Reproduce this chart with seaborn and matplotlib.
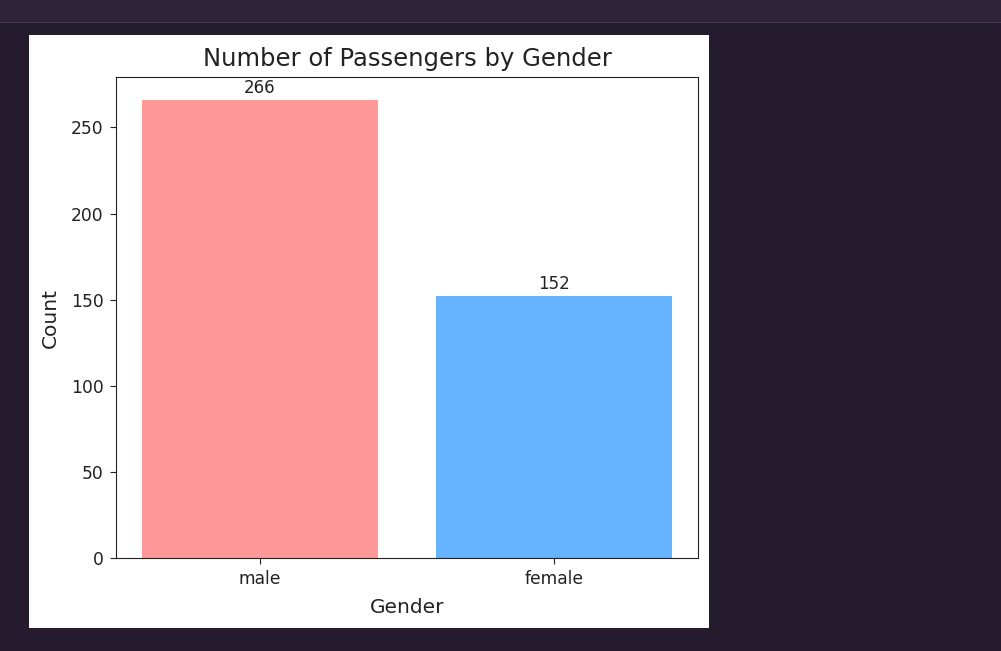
import matplotlib
matplotlib.use("Agg")
import matplotlib.pyplot as plt
import seaborn as sns
from matplotlib.patches import Rectangle

# data
genders = ["male", "female"]
counts = [266, 152]
bar_colors = ["#ff9999", "#66b3ff"]

W, H = 1001, 651
fig = plt.figure(figsize=(W / 100, H / 100), dpi=100, facecolor="#241b2e")

# notebook chrome: top bar and white output panel (kept behind the axes)
fig.patches.append(Rectangle((0, 1 - 22 / H), 1, 22 / H, transform=fig.transFigure,
                             facecolor="#2f2339", edgecolor="none", zorder=-10))
fig.patches.append(Rectangle((0, 1 - 23 / H), 1, 1 / H, transform=fig.transFigure,
                             facecolor="#463a50", edgecolor="none", zorder=-10))
fig.patches.append(Rectangle((29 / W, 1 - 628 / H), 680 / W, 593 / H,
                             transform=fig.transFigure, facecolor="white",
                             edgecolor="none", zorder=-10))

ax = fig.add_axes([116 / W, 1 - 558 / H, 582 / W, 481 / H])
sns.barplot(x=genders, y=counts, hue=genders, palette=bar_colors,
            saturation=1, legend=False, ax=ax)
ax.set_xlim(-0.49, 1.49)

for c in ax.containers:
    ax.bar_label(c, fontsize=12, padding=2, color="#222222")

ax.set_title("Number of Passengers by Gender", fontsize=17.5, color="#222222", pad=8)
ax.set_xlabel("Gender", fontsize=14.5, color="#222222", labelpad=6.5)
ax.set_ylabel("Count", fontsize=14.5, color="#222222", labelpad=8)
ax.tick_params(labelsize=12.3, colors="#222222", length=4.5, pad=4.5)
for s in ax.spines.values():
    s.set_color("#222222")

fig.savefig("out.png", dpi=100, facecolor=fig.get_facecolor())
